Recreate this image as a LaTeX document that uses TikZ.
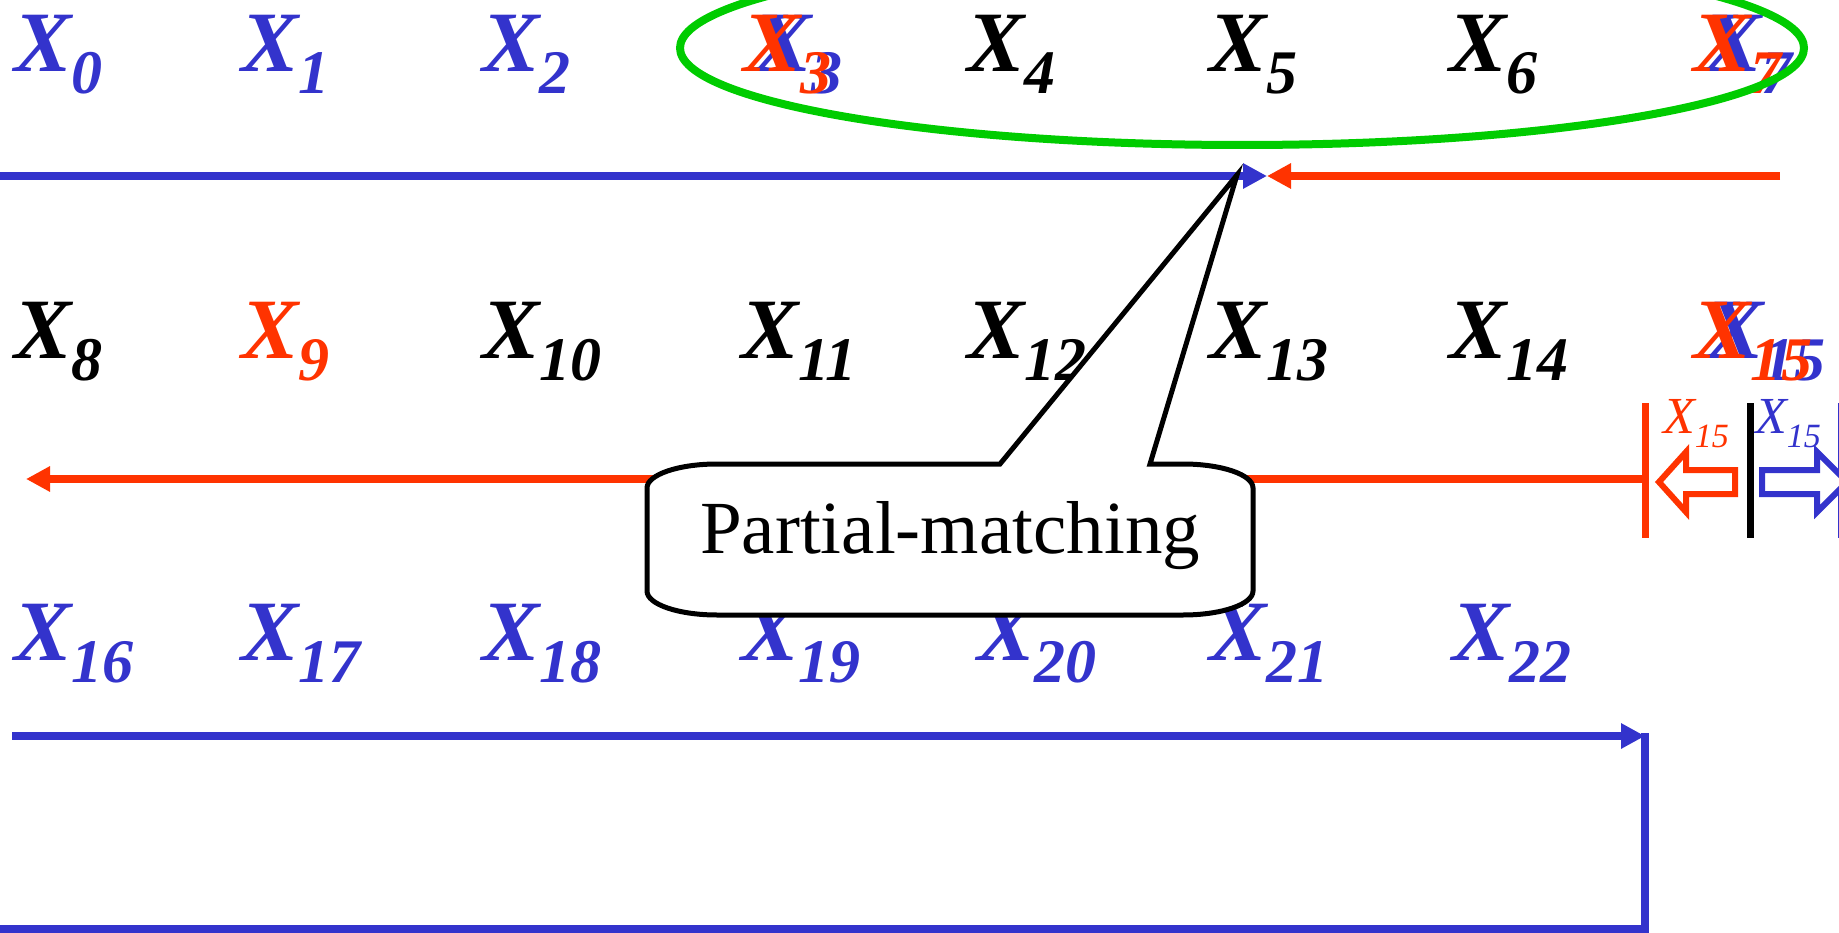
\documentclass[tikz,border=0pt]{standalone}
\usepackage{fontspec}
\setmainfont{Liberation Serif}
\usetikzlibrary{arrows.meta}
\definecolor{pblue}{RGB}{51,51,204}
\definecolor{pred}{RGB}{255,51,0}
\definecolor{pgreen}{RGB}{0,204,0}
\newcommand{\xbig}[1]{\bfseries\itshape\fontsize{86}{86}\selectfont X\raisebox{-22pt}{\fontsize{62}{62}\selectfont #1}}
\newcommand{\xsmall}[1]{\itshape\fontsize{52}{52}\selectfont X\raisebox{-14pt}{\fontsize{34}{34}\selectfont #1}}
\begin{document}
\begin{tikzpicture}[x=1pt,y=-1pt,
  lab/.style={anchor=base west,inner sep=0pt,outer sep=0pt},
  conn/.style={line width=8pt},
  tipA/.style={-{Triangle[length=24pt,width=24pt]}},
  bar/.style={line width=7pt},
  hollow/.style={line width=6pt,fill=white,line join=miter}]
\useasboundingbox (0,0) rectangle (1839,933);
% row 1
\node[lab,text=pblue] (x0) at (14,72) {\xbig{0}};
\node[lab,text=pblue] (x1) at (241,72) {\xbig{1}};
\node[lab,text=pblue] (x2) at (482,72) {\xbig{2}};
\node[lab,text=pblue] (x3b) at (754,72) {\xbig{3}};
\node[lab,text=pred] (x3r) at (743,72) {\xbig{3}};
\node[lab,text=black] (x4) at (967,72) {\xbig{4}};
\node[lab,text=black] (x5) at (1209,72) {\xbig{5}};
\node[lab,text=black] (x6) at (1449,72) {\xbig{6}};
\node[lab,text=pblue] (x7b) at (1704,72) {\xbig{7}};
\node[lab,text=pred] (x7r) at (1693,72) {\xbig{7}};
% row 2
\node[lab,text=black] (x8) at (14,358) {\xbig{8}};
\node[lab,text=pred] (x9) at (241,358) {\xbig{9}};
\node[lab,text=black] (x10) at (482,358) {\xbig{10}};
\node[lab,text=black] (x11) at (741,358) {\xbig{11}};
\node[lab,text=black] (x12) at (967,358) {\xbig{12}};
\node[lab,text=black] (x13) at (1209,358) {\xbig{13}};
\node[lab,text=black] (x14) at (1449,358) {\xbig{14}};
\node[lab,text=pblue] (x15b) at (1706,358) {\xbig{15}};
\node[lab,text=pred] (x15r) at (1693,358) {\xbig{15}};
% row 3
\node[lab,text=pblue] (x16) at (14,660) {\xbig{16}};
\node[lab,text=pblue] (x17) at (241,660) {\xbig{17}};
\node[lab,text=pblue] (x18) at (482,660) {\xbig{18}};
\node[lab,text=pblue] (x19) at (741,660) {\xbig{19}};
\node[lab,text=pblue] (x20) at (977,660) {\xbig{20}};
\node[lab,text=pblue] (x21) at (1209,660) {\xbig{21}};
\node[lab,text=pblue] (x22) at (1452,660) {\xbig{22}};
% small labels
\node[lab,text=pred] (s15r) at (1663,433) {\xsmall{15}};
\node[lab,text=pblue] (s15b) at (1755,433) {\xsmall{15}};
% green ellipse
\draw[pgreen,line width=8pt] (1242,48) ellipse [x radius=562,y radius=97];
% connectors
\coordinate (a1) at (0,176);
\coordinate (a2) at (1267,176);
\coordinate (b1) at (1780,176);
\draw[conn,pblue,tipA] (a1) -- (a2);
\draw[conn,pred,tipA] (b1) -- (a2);
\coordinate (c1) at (1645,479);
\coordinate (c2) at (26,479);
\draw[conn,pred,tipA] (c1) -- (c2);
\coordinate (d1) at (12,736);
\coordinate (d2) at (1645,736);
\coordinate (d3) at (1645,733);
\coordinate (e1) at (0,929);
\coordinate (e2) at (1645,929);
\draw[conn,pblue,tipA] (d1) -- (d2);
\draw[conn,pblue,line join=miter] (e1) -- (e2) -- (d3);
% bars
\draw[bar,pred] (1645,403) -- (1645,538);
\draw[bar,black] (1750,403) -- (1750,538);
\draw[bar,pblue] (1841,403) -- (1841,538);
% hollow arrows
\draw[hollow,draw=pred] (1659,482) -- (1686,452) -- (1686,470) -- (1735,470) -- (1735,494) -- (1686,494) -- (1686,512) -- cycle;
\draw[hollow,draw=pblue] (1762,470) -- (1817,470) -- (1817,452) -- (1847,482) -- (1817,512) -- (1817,494) -- (1762,494) -- cycle;
% callout
\coordinate (ptip) at (1237,175);
\draw[line width=5pt,fill=white,line join=miter]
  (647,488) .. controls (647,474.7) and (678.3,464) .. (717,464)
  -- (1000,464) -- (ptip) -- (1150,464) -- (1183,464)
  .. controls (1221.7,464) and (1253,474.7) .. (1253,488)
  -- (1253,591)
  .. controls (1253,604.3) and (1221.7,615) .. (1183,615)
  -- (717,615)
  .. controls (678.3,615) and (647,604.3) .. (647,591) -- cycle;
\node[anchor=base,inner sep=0pt,font=\fontsize{75}{75}\selectfont] (pm) at (950,553) {Partial-matching};
\end{tikzpicture}
\end{document}
